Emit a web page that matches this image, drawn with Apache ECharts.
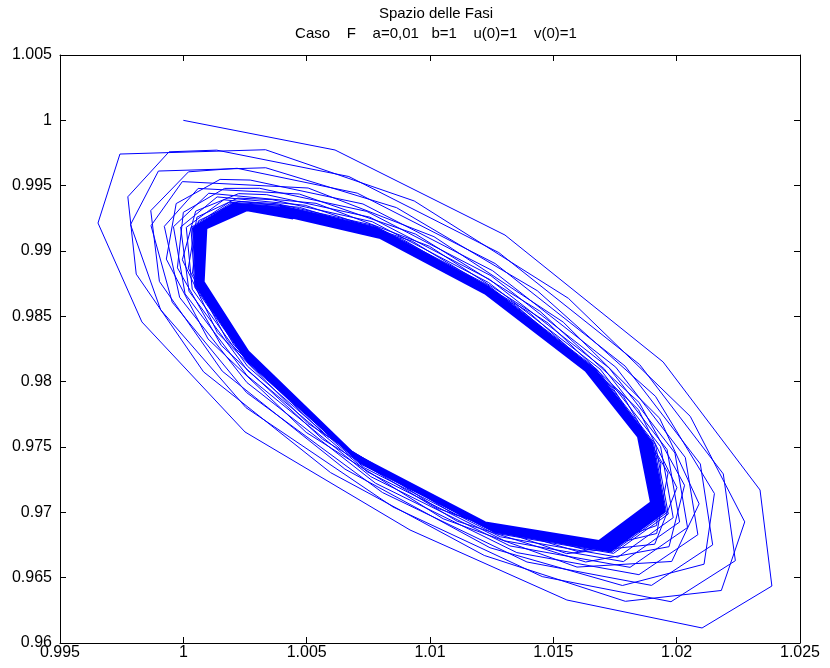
<!DOCTYPE html>
<html>
<head>
<meta charset="utf-8">
<script src="https://cdn.jsdelivr.net/npm/echarts@6/dist/echarts.min.js"></script>
<style>html,body{margin:0;padding:0;background:#fff}#c{width:830px;height:668px}</style>
</head>
<body>
<div id="c"></div>
<script>
var titleMain = 'Spazio delle Fasi';
var titleSub = 'Caso    F    a=0,01   b=1    u(0)=1    v(0)=1';
var xTickLabels = ['0.995','1','1.005','1.01','1.015','1.02','1.025'];
var yTickLabels = ['0.96','0.965','0.97','0.975','0.98','0.985','0.99','0.995','1','1.005'];

// transient spiral (u, v)
var spiralX = [
1.00000,1.00615,1.01304,1.01945,1.02338,1.02386,1.02103,1.01555,1.00919,1.00250,0.99832,0.99654,0.99743,
1.00333,1.00936,1.01561,1.02055,1.02276,1.02181,1.01792,1.01220,1.00597,1.00082,0.99809,0.99775,0.99942,
1.00135,1.00671,1.01279,1.01850,1.02189,1.02238,1.01977,1.01455,1.00850,1.00254,0.99908,0.99786,0.99899,
1.00334,1.00864,1.01435,1.01914,1.02153,1.02111,1.01780,1.01243,1.00655,1.00158,0.99903,0.99868,1.00021,
1.00218,1.00705,1.01264,1.01791,1.02096,1.02146,1.01898,1.01393,1.00807,1.00256,0.99955,0.99869,0.99996,
1.00506,1.01016,1.01540,1.01931,1.02091,1.01980,1.01596,1.01053,1.00498,1.00100,0.99931,0.99971,1.00149,
1.00271,1.00728,1.01254,1.01753,1.02035,1.02086,1.01847,1.01352,1.00779,1.00258,0.99985,0.99923,1.00060,
1.00470,1.00942,1.01445,1.01848,1.02032,1.01969,1.01631,1.01110,1.00565,1.00154,0.99976,1.00000,1.00167,
1.00309,1.00744,1.01247,1.01726,1.01993,1.02044,1.01811,1.01324,1.00760,1.00259,1.00007,0.99960,1.00103,
1.00538,1.00998,1.01479,1.01845,1.02001,1.01911,1.01554,1.01032,1.00505,1.00138,0.99996,1.00050,1.00224,
1.00338,1.00756,1.01242,1.01705,1.01961,1.02012,1.01784,1.01302,1.00745,1.00260,1.00023,0.99989,1.00137,
1.00494,1.00928,1.01399,1.01784,1.01965,1.01919,1.01604,1.01099,1.00571,1.00179,1.00020,1.00055,1.00221,
1.00360,1.00766,1.01237,1.01689,1.01935,1.01986,1.01762,1.01285,1.00733,1.00260,1.00036,1.00012,1.00164,
1.00471,1.00886,1.01347,1.01742,1.01936,1.01919,1.01633,1.01140,1.00611,1.00206,1.00037,1.00061,1.00225,
1.00379,1.00773,1.01234,1.01676,1.01914,1.01966,1.01744,1.01271,1.00723,1.00261,1.00047,1.00031,1.00186,
1.00385,1.00776,1.01233,1.01671,1.01907,1.01959,1.01739,1.01266,1.00720,1.00261,1.00050,1.00037,1.00193,
1.00391
];
var spiralY = [
1.00000,0.99773,0.99122,0.98151,0.97171,0.96436,0.96115,0.96329,0.96865,0.97615,0.98457,0.99214,0.99742,
0.99775,0.99383,0.98638,0.97735,0.96927,0.96402,0.96319,0.96670,0.97304,0.98075,0.98823,0.99415,0.99759,
0.99772,0.99570,0.98988,0.98131,0.97294,0.96630,0.96316,0.96508,0.97041,0.97801,0.98550,0.99202,0.99612,
0.99637,0.99332,0.98696,0.97888,0.97144,0.96603,0.96440,0.96729,0.97331,0.98080,0.98767,0.99309,0.99606,
0.99633,0.99443,0.98904,0.98119,0.97370,0.96751,0.96441,0.96620,0.97152,0.97917,0.98608,0.99194,0.99531,
0.99482,0.99110,0.98456,0.97720,0.97065,0.96624,0.96581,0.96951,0.97612,0.98327,0.98938,0.99363,0.99548,
0.99543,0.99360,0.98849,0.98111,0.97420,0.96829,0.96523,0.96692,0.97223,0.97993,0.98645,0.99189,0.99479,
0.99436,0.99129,0.98540,0.97840,0.97207,0.96737,0.96620,0.96932,0.97559,0.98277,0.98871,0.99296,0.99479,
0.99480,0.99303,0.98811,0.98105,0.97454,0.96884,0.96579,0.96743,0.97273,0.98045,0.98672,0.99186,0.99442,
0.99365,0.99036,0.98448,0.97786,0.97189,0.96756,0.96684,0.97030,0.97681,0.98375,0.98933,0.99305,0.99439,
0.99431,0.99259,0.98782,0.98101,0.97481,0.96926,0.96623,0.96782,0.97311,0.98086,0.98692,0.99183,0.99414,
0.99350,0.99075,0.98534,0.97887,0.97301,0.96838,0.96697,0.96984,0.97599,0.98312,0.98869,0.99259,0.99405,
0.99393,0.99224,0.98759,0.98097,0.97502,0.96959,0.96657,0.96813,0.97342,0.98118,0.98708,0.99181,0.99392,
0.99334,0.99093,0.98585,0.97950,0.97377,0.96899,0.96712,0.96959,0.97549,0.98278,0.98831,0.99231,0.99380,
0.99362,0.99195,0.98740,0.98095,0.97520,0.96987,0.96686,0.96838,0.97366,0.98144,0.98721,0.99179,0.99373,
0.99351,0.99186,0.98734,0.98094,0.97525,0.96996,0.96695,0.96846,0.97375,0.98152,0.98725,0.99179,0.99367,
0.99341
];

// limit-cycle band (u, v)
var bandX = [
1.00391,1.00779,1.01232,1.01667,1.01900,1.01952,1.01733,1.01262,1.00717,1.00261,1.00054,1.00043,1.00201,
1.00397,1.00781,1.01230,1.01662,1.01893,1.01945,1.01727,1.01257,1.00714,1.00261,1.00057,1.00049,1.00208,
1.00404,1.00784,1.01229,1.01658,1.01886,1.01938,1.01721,1.01252,1.00710,1.00262,1.00061,1.00056,1.00215,
1.00410,1.00786,1.01228,1.01653,1.01879,1.01931,1.01715,1.01248,1.00707,1.00262,1.00064,1.00062,1.00223,
1.00416,1.00789,1.01227,1.01649,1.01872,1.01924,1.01709,1.01243,1.00704,1.00262,1.00068,1.00068,1.00230,
1.00422,1.00792,1.01226,1.01645,1.01865,1.01917,1.01703,1.01238,1.00701,1.00262,1.00072,1.00074,1.00237,
1.00428,1.00794,1.01225,1.01640,1.01858,1.01910,1.01697,1.01234,1.00698,1.00262,1.00075,1.00080,1.00245,
1.00435,1.00797,1.01224,1.01636,1.01851,1.01903,1.01691,1.01229,1.00694,1.00263,1.00079,1.00087,1.00252,
1.00441,1.00799,1.01222,1.01631,1.01844,1.01896,1.01685,1.01224,1.00690,1.00263,1.00082,1.00093,1.00259,
1.00445
];
var bandY = [
0.99341,0.99176,0.98727,0.98093,0.97531,0.97005,0.96704,0.96854,0.97383,0.98161,0.98730,0.99178,0.99361,
0.99330,0.99167,0.98721,0.98092,0.97537,0.97014,0.96714,0.96863,0.97391,0.98170,0.98734,0.99178,0.99355,
0.99320,0.99157,0.98715,0.98091,0.97543,0.97023,0.96723,0.96871,0.97399,0.98179,0.98738,0.99177,0.99349,
0.99309,0.99148,0.98708,0.98090,0.97548,0.97032,0.96733,0.96880,0.97408,0.98187,0.98743,0.99177,0.99343,
0.99299,0.99138,0.98702,0.98089,0.97554,0.97041,0.96742,0.96888,0.97416,0.98196,0.98747,0.99176,0.99337,
0.99289,0.99128,0.98696,0.98088,0.97560,0.97050,0.96751,0.96896,0.97424,0.98205,0.98751,0.99175,0.99331,
0.99278,0.99119,0.98689,0.98087,0.97565,0.97059,0.96761,0.96905,0.97433,0.98213,0.98756,0.99175,0.99325,
0.99268,0.99109,0.98683,0.98086,0.97571,0.97068,0.96770,0.96913,0.97441,0.98222,0.98760,0.99174,0.99319,
0.99257,0.99100,0.98677,0.98085,0.97577,0.97077,0.96780,0.96922,0.97449,0.98231,0.98764,0.99174,0.99313,
0.99250
];

function pairs(xs, ys) { var out = []; for (var i = 0; i < xs.length; i++) out.push([xs[i], ys[i]]); return out; }

var FONT = 'Liberation Sans, Arial, Helvetica, sans-serif';
var chart = echarts.init(document.getElementById('c'), null, {renderer: 'canvas'});
var axisCommon = {
  type: 'value',
  axisLine: {show: true, onZero: false, lineStyle: {color: '#000', width: 1}},
  axisTick: {show: true, inside: true, length: 6, lineStyle: {color: '#000', width: 1}},
  splitLine: {show: false}
};
chart.setOption({
  animation: false,
  backgroundColor: '#fff',
  title: [
    {text: titleMain, left: 431, top: 1, textAlign: 'center',
     textStyle: {fontFamily: FONT, fontSize: 15, fontWeight: 'normal', color: '#000'}},
    {text: titleSub, left: 431, top: 21, textAlign: 'center',
     textStyle: {fontFamily: FONT, fontSize: 15, fontWeight: 'normal', color: '#000'}}
  ],
  grid: {left: 60, right: 30, top: 55, bottom: 25, containLabel: false},
  xAxis: [
    Object.assign({}, axisCommon, {position: 'bottom', min: 0.995, max: 1.025, interval: 0.005,
      axisLabel: {show: true, color: '#000', fontFamily: FONT, fontSize: 16, margin: 2,
        formatter: function (v, i) { return xTickLabels[i]; }}}),
    Object.assign({}, axisCommon, {position: 'top', min: 0.995, max: 1.025, interval: 0.005,
      axisLabel: {show: false}})
  ],
  yAxis: [
    Object.assign({}, axisCommon, {position: 'left', min: 0.96, max: 1.005, interval: 0.005,
      axisLabel: {show: true, color: '#000', fontFamily: FONT, fontSize: 16, margin: 8,
        formatter: function (v, i) { return yTickLabels[i]; }}}),
    Object.assign({}, axisCommon, {position: 'right', min: 0.96, max: 1.005, interval: 0.005,
      axisLabel: {show: false}})
  ],
  series: [
    {type: 'line', xAxisIndex: 0, yAxisIndex: 0, data: pairs(spiralX, spiralY), showSymbol: false, symbol: 'none',
     lineStyle: {color: '#0000ff', width: 1}, silent: true},
    {type: 'line', xAxisIndex: 0, yAxisIndex: 0, data: pairs(bandX, bandY), showSymbol: false, symbol: 'none',
     lineStyle: {color: '#0000ff', width: 2.2}, silent: true}
  ]
});
</script>
</body>
</html>
